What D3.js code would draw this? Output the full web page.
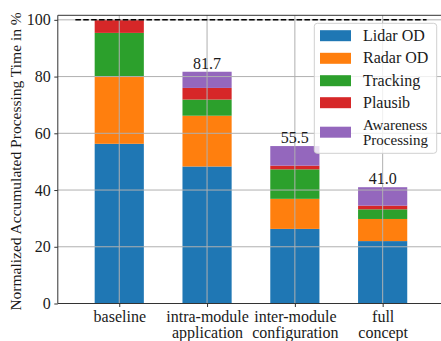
<!DOCTYPE html>
<html>
<head>
<meta charset="utf-8">
<script src="https://cdn.jsdelivr.net/npm/d3@7"></script>
<style>
  html, body { margin: 0; padding: 0; background: #fff; }
  svg { display: block; }
</style>
</head>
<body>
<svg id="chart" width="441" height="341"></svg>
<script>
// Processing time breakdown per optimisation step (% of baseline)
const categories = [["baseline"], ["intra-module", "application"], ["inter-module", "configuration"], ["full", "concept"]];
const lidarOD   = [56.3, 48.3, 26.3, 22.0];
const radarOD   = [23.6, 17.9, 10.6, 7.8];
const tracking  = [15.5, 5.7, 10.4, 3.4];
const plausib   = [4.6, 4.1, 1.3, 1.3];
const awareness = [0.0, 5.7, 6.9, 6.5];
const seriesNames = ["Lidar OD", "Radar OD", "Tracking", "Plausib", ["Awareness", "Processing"]];
const seriesColors = ["#1f77b4", "#ff7f0e", "#2ca02c", "#d62728", "#9467bd"];
const yTicks = [0, 20, 40, 60, 80, 100];
const showTotal = [false, true, true, true];
const referenceLevel = 100;

const FONT = '"Liberation Serif"';
const INK = "#1a1a1a";
const series = [lidarOD, radarOD, tracking, plausib, awareness];
const svg = d3.select("#chart");

function styleText(sel, size) {
  return sel.attr("font-family", null)
    .style("font-family", FONT).style("font-size", size + "px").style("fill", INK);
}

const plot = { left: 57.8, top: 15.3, bottom: 303.5 };
const x = d3.scaleLinear().domain([-0.7, 3.7]).range([plot.left, plot.left + 4.4 * 87.8]);
const y = d3.scaleLinear().domain([0, 101.6]).range([plot.bottom, plot.top]);
const barWidth = 0.56;

// stacked layers
const rows = categories.map((c, i) => {
  const r = { i };
  series.forEach((s, k) => r["s" + k] = s[i]);
  return r;
});
const stack = d3.stack().keys(series.map((_, k) => "s" + k))(rows);

const bars = svg.append("g");
stack.forEach((layer, k) => {
  bars.selectAll(null).data(layer.filter(d => d[1] - d[0] > 0)).enter()
    .append("rect")
    .attr("x", d => x(d.data.i - barWidth / 2))
    .attr("width", x(barWidth) - x(0))
    .attr("y", d => y(d[1]))
    .attr("height", d => y(d[0]) - y(d[1]))
    .attr("fill", seriesColors[k]);
});

// grid on top of bars
const grid = svg.append("g").attr("stroke", "#b0b0b0").attr("stroke-width", 1);
yTicks.forEach(t => grid.append("line")
  .attr("x1", plot.left).attr("x2", 441)
  .attr("y1", y(t)).attr("y2", y(t)));
categories.forEach((c, i) => grid.append("line")
  .attr("x1", x(i)).attr("x2", x(i))
  .attr("y1", plot.top).attr("y2", plot.bottom));

// reference line at 100 %
svg.append("line")
  .attr("x1", x(-0.5)).attr("x2", x(3.5))
  .attr("y1", y(referenceLevel)).attr("y2", y(referenceLevel))
  .attr("stroke", "#000").attr("stroke-width", 1.5)
  .attr("stroke-dasharray", "5.5,2.4");

// totals above bars
categories.forEach((c, i) => {
  if (!showTotal[i]) return;
  const total = d3.sum(series, s => s[i]);
  styleText(svg.append("text"), 16)
    .attr("x", x(i)).attr("y", y(total) - 2.8)
    .attr("text-anchor", "middle")
    .text(total.toFixed(1));
});

// axes
const yAxis = d3.axisLeft(y).tickValues(yTicks).tickSize(3.5).tickPadding(3.5).tickFormat(d3.format("d"));
const gy = svg.append("g").attr("transform", `translate(${plot.left},0)`).call(yAxis);
gy.attr("font-family", null).attr("font-size", null);
gy.select(".domain").remove();
gy.selectAll(".tick line").attr("stroke", "#333");
styleText(gy.selectAll(".tick text"), 16);

const xAxis = d3.axisBottom(x).tickValues(d3.range(categories.length)).tickSize(3.5).tickFormat("");
const gx = svg.append("g").attr("transform", `translate(0,${plot.bottom})`).call(xAxis);
gx.attr("font-family", null).attr("font-size", null);
gx.select(".domain").remove();
gx.selectAll(".tick line").attr("stroke", "#333");
gx.selectAll(".tick").each(function(d) {
  const t = styleText(d3.select(this).append("text"), 16).attr("text-anchor", "middle");
  categories[d].forEach((line, j) => t.append("tspan")
    .attr("x", 0).attr("y", 18 + j * 16.5).text(line));
});

// spines
const spines = svg.append("g").attr("stroke", "#333").attr("stroke-width", 1).attr("fill", "none");
spines.append("line").attr("x1", plot.left).attr("x2", plot.left).attr("y1", plot.top).attr("y2", plot.bottom);
spines.append("line").attr("x1", plot.left).attr("x2", 441).attr("y1", plot.bottom).attr("y2", plot.bottom);
spines.append("line").attr("x1", plot.left).attr("x2", 441).attr("y1", plot.top).attr("y2", plot.top);

// y axis title
styleText(svg.append("text"), 15.5)
  .attr("transform", `translate(15,${(plot.top + plot.bottom) / 2 + 2}) rotate(-90)`)
  .attr("text-anchor", "middle").attr("dominant-baseline", "central")
  .text("Normalized Accumulated Processing Time in %");

// legend
const lg = svg.append("g");
lg.append("rect")
  .attr("x", 314.3).attr("y", 23.3).attr("width", 122.4).attr("height", 130)
  .attr("rx", 3).attr("fill", "#fff").attr("fill-opacity", 0.8)
  .attr("stroke", "#d0d0d0").attr("stroke-width", 1);
const rowY = [35.7, 58.3, 80.7, 102.7, 132.2];
seriesNames.forEach((name, k) => {
  lg.append("rect")
    .attr("x", 320).attr("y", rowY[k] - 5.5).attr("width", 31).attr("height", 11)
    .attr("fill", seriesColors[k]);
  const lines = Array.isArray(name) ? name : [name];
  lines.forEach((line, j) => styleText(lg.append("text"), lines.length > 1 ? 15 : 16)
    .attr("x", 363)
    .attr("y", rowY[k] + 5 + (j - (lines.length - 1) / 2) * 15)
    .text(line));
});
</script>
</body>
</html>
